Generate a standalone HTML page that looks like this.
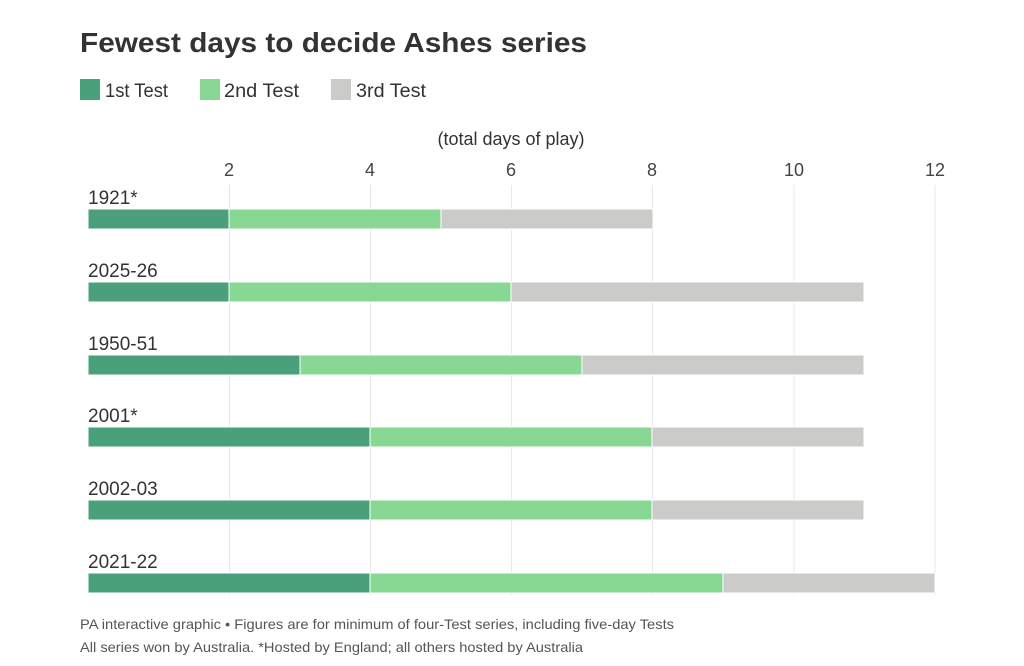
<!DOCTYPE html>
<html><head><meta charset="utf-8"><style>
body{margin:0;background:#fff;}
svg{display:block;font-family:"Liberation Sans",sans-serif;}
</style></head><body>
<svg width="1024" height="666" viewBox="0 0 1024 666">
<text x="80" y="52" font-size="28" font-weight="bold" fill="#333" textLength="507" lengthAdjust="spacingAndGlyphs">Fewest days to decide Ashes series</text>
<rect x="80" y="79" width="20" height="21" fill="#4aa07b"/>
<text x="105" y="97" font-size="19" fill="#333" textLength="63" lengthAdjust="spacingAndGlyphs">1st Test</text>
<rect x="200" y="79" width="20" height="21" fill="#88d894"/>
<text x="224" y="97" font-size="19" fill="#333" textLength="75" lengthAdjust="spacingAndGlyphs">2nd Test</text>
<rect x="331" y="79" width="20" height="21" fill="#cbcbc9"/>
<text x="356" y="97" font-size="19" fill="#333" textLength="70" lengthAdjust="spacingAndGlyphs">3rd Test</text>
<text x="511" y="145" font-size="18" fill="#333" text-anchor="middle">(total days of play)</text>
<g stroke="#e8e8e8" stroke-width="1">
<line x1="229.5" y1="185" x2="229.5" y2="595"/>
<line x1="370.5" y1="185" x2="370.5" y2="595"/>
<line x1="511.5" y1="185" x2="511.5" y2="595"/>
<line x1="652.5" y1="185" x2="652.5" y2="595"/>
<line x1="794" y1="185" x2="794" y2="595"/>
<line x1="935" y1="185" x2="935" y2="595"/>
</g>
<g font-size="18" fill="#444" text-anchor="middle">
<text x="229" y="176">2</text><text x="370" y="176">4</text><text x="511" y="176">6</text>
<text x="652" y="176">8</text><text x="794" y="176">10</text><text x="935" y="176">12</text>
</g>
<g font-size="19" fill="#333">
<text x="88" y="204">1921*</text>
<text x="88" y="277">2025-26</text>
<text x="88" y="350">1950-51</text>
<text x="88" y="422">2001*</text>
<text x="88" y="495">2002-03</text>
<text x="88" y="568">2021-22</text>
</g>
<g stroke="#fff" stroke-width="1">
<rect x="88" y="209" width="141" height="20" fill="#4aa07b"/><rect x="229" y="209" width="212" height="20" fill="#88d894"/><rect x="441" y="209" width="212" height="20" fill="#cbcbc9"/>
<rect x="88" y="282" width="141" height="20" fill="#4aa07b"/><rect x="229" y="282" width="282" height="20" fill="#88d894"/><rect x="511" y="282" width="353" height="20" fill="#cbcbc9"/>
<rect x="88" y="355" width="212" height="20" fill="#4aa07b"/><rect x="300" y="355" width="282" height="20" fill="#88d894"/><rect x="582" y="355" width="282" height="20" fill="#cbcbc9"/>
<rect x="88" y="427" width="282" height="20" fill="#4aa07b"/><rect x="370" y="427" width="282" height="20" fill="#88d894"/><rect x="652" y="427" width="212" height="20" fill="#cbcbc9"/>
<rect x="88" y="500" width="282" height="20" fill="#4aa07b"/><rect x="370" y="500" width="282" height="20" fill="#88d894"/><rect x="652" y="500" width="212" height="20" fill="#cbcbc9"/>
<rect x="88" y="573" width="282" height="20" fill="#4aa07b"/><rect x="370" y="573" width="353" height="20" fill="#88d894"/><rect x="723" y="573" width="212" height="20" fill="#cbcbc9"/>
</g>
<text x="80" y="629" font-size="14" fill="#555" textLength="594" lengthAdjust="spacingAndGlyphs">PA interactive graphic • Figures are for minimum of four-Test series, including five-day Tests</text>
<text x="80" y="652" font-size="14" fill="#555" textLength="503" lengthAdjust="spacingAndGlyphs">All series won by Australia. *Hosted by England; all others hosted by Australia</text>
</svg>
</body></html>
